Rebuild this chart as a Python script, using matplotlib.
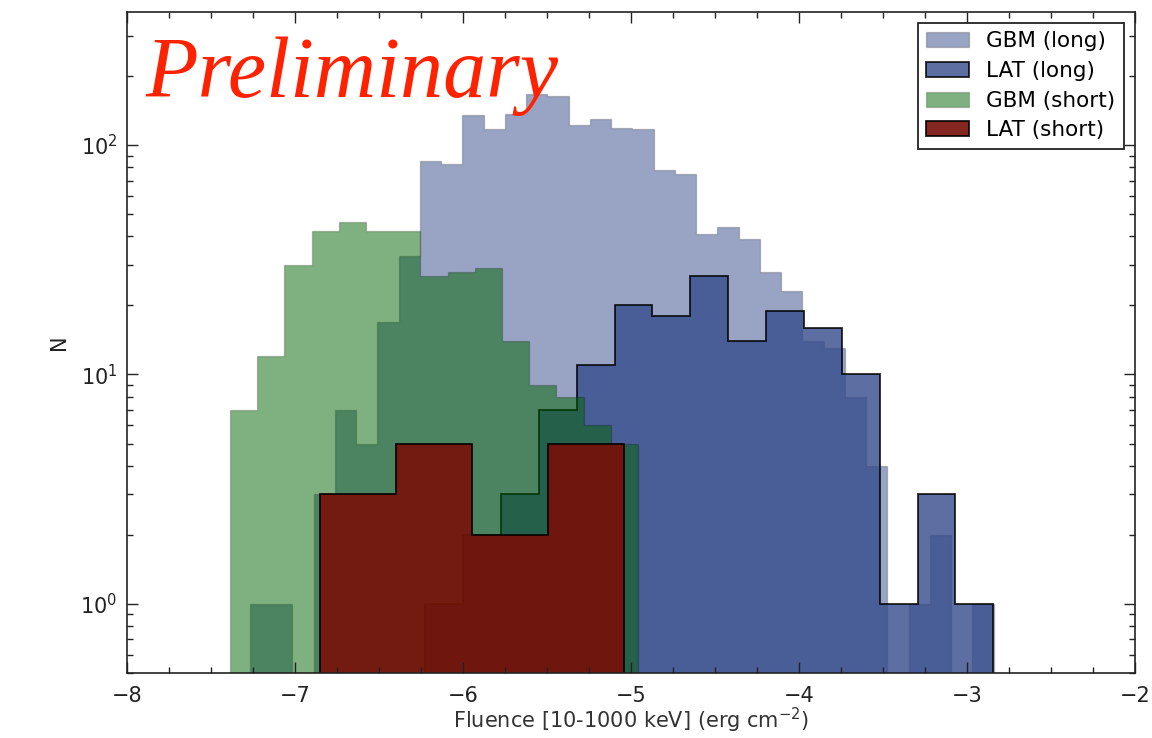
import matplotlib
matplotlib.use('Agg')
import matplotlib.pyplot as plt
import numpy as np
from matplotlib.ticker import MultipleLocator

# log10 fluence range covered by each histogram and the counts per bin
gbm_long_range = (-7.268, -2.842)
gbm_long_counts = [1, 1, 0, 3, 7, 5, 17, 33, 85, 83, 135, 117, 137, 167, 164,
                   122, 130, 119, 117, 78, 75, 41, 44, 39, 28, 23, 14, 13, 8,
                   4, 0, 1, 2, 0, 1]

lat_long_range = (-6.2255, -2.843)
lat_long_counts = [1, 2, 3, 7, 11, 20, 18, 27, 14, 19, 16, 10, 1, 3, 1]

gbm_short_range = (-7.387, -4.958)
gbm_short_counts = [7, 12, 30, 42, 46, 42, 42, 27, 28, 29, 14, 9, 8, 6, 5]

lat_short_range = (-6.851, -5.042)
lat_short_counts = [3, 5, 2, 5]

labels = ['GBM (long)', 'LAT (long)', 'GBM (short)', 'LAT (short)']


def _hist(ax, rng, counts, **kw):
    edges = np.linspace(rng[0], rng[1], len(counts) + 1)
    centers = 0.5 * (edges[1:] + edges[:-1])
    ax.hist(centers, bins=edges, weights=counts, histtype='stepfilled',
            log=True, **kw)


fig = plt.figure(figsize=(11.52, 7.38), dpi=100, facecolor='white')
ax = fig.add_axes([127 / 1152, 65 / 738, 1008 / 1152, 661 / 738])

_hist(ax, gbm_long_range, gbm_long_counts, label=labels[0],
      facecolor=(0.208, 0.294, 0.545, 0.5), edgecolor=(0, 0, 0, 0.2), linewidth=1)
_hist(ax, lat_long_range, lat_long_counts, label=labels[1],
      facecolor=(0.208, 0.294, 0.545, 0.8), edgecolor=(0, 0, 0, 0.85), linewidth=1.3)
_hist(ax, gbm_short_range, gbm_short_counts, label=labels[2],
      facecolor=(0.0, 0.39, 0.0, 0.5), edgecolor=(0, 0, 0, 0.2), linewidth=1)
_hist(ax, lat_short_range, lat_short_counts, label=labels[3],
      facecolor=(0.47, 0.06, 0.03, 0.9), edgecolor=(0, 0, 0, 0.9), linewidth=1.3)

ax.set_xlim(-8, -2)
ax.set_ylim(0.5, 380)
ax.xaxis.set_major_locator(MultipleLocator(1))
ax.xaxis.set_minor_locator(MultipleLocator(0.25))

ax.tick_params(which='both', direction='in', top=True, right=True,
               labelsize=15, colors='#222222')
ax.tick_params(which='major', length=8, width=1)
ax.tick_params(which='minor', length=4, width=1)
ax.tick_params(axis='x', pad=9)
ax.tick_params(axis='y', pad=7)
for s in ax.spines.values():
    s.set_linewidth(1.2)
    s.set_color('#222222')

ax.set_xlabel('Fluence [10-1000 keV] (erg cm$^{-2}$)', fontsize=15,
              color='#333333', labelpad=0)
ax.set_ylabel('N', fontsize=15, color='#222222', labelpad=8)

leg = ax.legend(loc='upper right', fontsize=15.5, fancybox=False,
                edgecolor='#222222', framealpha=1, borderaxespad=0.5,
                handlelength=2, handletextpad=0.8, labelspacing=0.45)
leg.get_frame().set_linewidth(1.3)

fig.text(145 / 1152, 1 - 97 / 738, 'Preliminary', family='Liberation Serif',
         style='italic', color='#FF2200', fontsize=62, va='baseline')

fig.savefig('out.png', dpi=100, facecolor='white')
plt.close()
